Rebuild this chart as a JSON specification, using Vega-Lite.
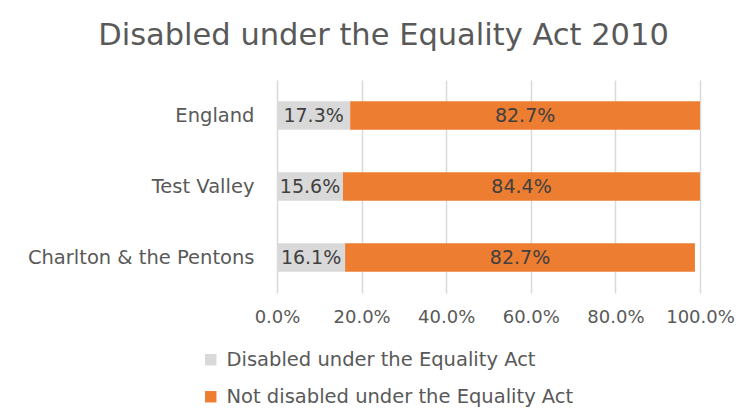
{
  "$schema": "https://vega.github.io/schema/vega-lite/v6.json",
  "autosize": {"type": "none"},
  "padding": {"left": 277, "top": 80, "right": 51, "bottom": 124},
  "width": 423,
  "height": 213,
  "background": "#ffffff",
  "config": {
    "font": "DejaVu Sans",
    "view": {"stroke": null}
  },
  "title": {
    "text": "Disabled under the Equality Act 2010",
    "fontSize": 30.5,
    "fontWeight": "normal",
    "color": "#595959",
    "anchor": "middle",
    "frame": "group",
    "dx": -105,
    "offset": 29,
    "font": "DejaVu Sans"
  },
  "data": {
    "values": [
      {"region": "England", "category": "Disabled under the Equality Act", "ord": 1, "value": 0.173},
      {"region": "England", "category": "Not disabled under the Equality Act", "ord": 2, "value": 0.827},
      {"region": "Test Valley", "category": "Disabled under the Equality Act", "ord": 1, "value": 0.156},
      {"region": "Test Valley", "category": "Not disabled under the Equality Act", "ord": 2, "value": 0.844},
      {"region": "Charlton & the Pentons", "category": "Disabled under the Equality Act", "ord": 1, "value": 0.161},
      {"region": "Charlton & the Pentons", "category": "Not disabled under the Equality Act", "ord": 2, "value": 0.827}
    ]
  },
  "transform": [
    {"stack": "value", "groupby": ["region"], "sort": [{"field": "ord"}], "as": ["x0", "x1"]},
    {"calculate": "(datum.x0 + datum.x1) / 2", "as": "xmid"}
  ],
  "encoding": {
    "y": {
      "field": "region",
      "type": "nominal",
      "sort": ["England", "Test Valley", "Charlton & the Pentons"],
      "scale": {"paddingInner": 0.6, "paddingOuter": 0.3},
      "axis": {
        "title": null,
        "domain": false,
        "ticks": false,
        "labelPadding": 23,
        "labelFontSize": 19.5,
        "labelColor": "#595959",
        "labelFont": "DejaVu Sans",
        "labelLimit": 400
      }
    }
  },
  "layer": [
    {
      "mark": {"type": "bar"},
      "encoding": {
        "x": {
          "field": "x0",
          "type": "quantitative",
          "scale": {"domain": [0, 1], "nice": false},
          "axis": {
            "title": null,
            "format": ".1%",
            "values": [0, 0.2, 0.4, 0.6, 0.8, 1],
            "labelOverlap": false,
            "labelFlush": false,
            "domain": false,
            "ticks": false,
            "grid": true,
            "gridColor": "#d9d9d9",
            "gridWidth": 1.5,
            "labelPadding": 15,
            "labelFontSize": 18,
            "labelColor": "#595959",
            "labelFont": "DejaVu Sans"
          }
        },
        "x2": {"field": "x1"},
        "color": {
          "field": "category",
          "type": "nominal",
          "scale": {
            "domain": ["Disabled under the Equality Act", "Not disabled under the Equality Act"],
            "range": ["#d9d9d9", "#ed7d31"]
          },
          "legend": {
            "title": null,
            "orient": "none",
            "legendX": -76,
            "legendY": 270,
            "direction": "vertical",
            "symbolType": "square",
            "symbolSize": 130,
            "symbolStrokeWidth": 0,
            "rowPadding": 16,
            "labelOffset": 6,
            "labelFontSize": 19.5,
            "labelColor": "#595959",
            "labelFont": "DejaVu Sans",
            "labelLimit": 500
          }
        }
      }
    },
    {
      "mark": {"type": "text", "align": "center", "baseline": "middle", "fontSize": 19, "color": "#404040", "font": "DejaVu Sans"},
      "encoding": {
        "x": {"field": "xmid", "type": "quantitative"},
        "text": {"field": "value", "type": "quantitative", "format": ".1%"}
      }
    }
  ]
}
